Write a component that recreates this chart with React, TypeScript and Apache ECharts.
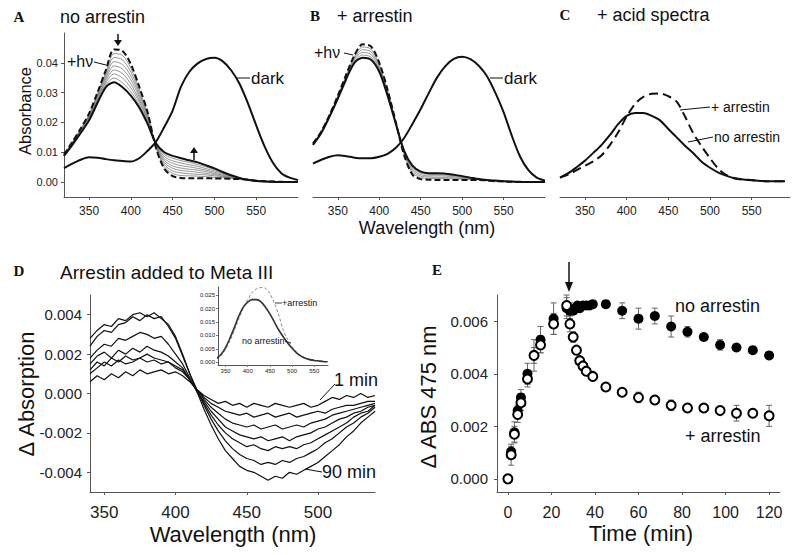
import React, { useEffect, useRef } from "react";
import * as echarts from "echarts";

const FONT = '"Liberation Sans", Arial, sans-serif';
const SERIF = '"Liberation Serif", "Times New Roman", serif';

// ---------- Panels A / B (wavelength in nm) ----------
const WL = [320, 330, 340, 350, 360, 370, 380, 390, 400, 410, 420, 430, 440, 450, 460, 470, 480, 490, 500, 510, 520, 530, 540, 550, 560, 570, 580, 590, 600];
const WL_TICKS = [350, 400, 450, 500, 550];
const A_Y_TICKS = [0, 0.01, 0.02, 0.03, 0.04];

const A_DARK = [0.0047, 0.0062, 0.0075, 0.0083, 0.0082, 0.0077, 0.0073, 0.0071, 0.0069, 0.008, 0.0105, 0.0135, 0.0185, 0.024, 0.032, 0.037, 0.0398, 0.0413, 0.0417, 0.0405, 0.0375, 0.033, 0.0265, 0.019, 0.012, 0.0065, 0.003, 0.0015, 0.0007];
const A_HV_FIRST = [0.0092, 0.0135, 0.018, 0.023, 0.03, 0.0375, 0.0445, 0.044, 0.0395, 0.032, 0.0235, 0.0115, 0.0045, 0.002, 0.0014, 0.0013, 0.0013, 0.0013, 0.0012, 0.0012, 0.0011, 0.001, 0.0008, 0.0005, 0.0003, 0.0002, 0.0001, 0, 0];
const A_HV_LAST = [0.0088, 0.0125, 0.0165, 0.0207, 0.0265, 0.0318, 0.0335, 0.0318, 0.029, 0.025, 0.0195, 0.013, 0.01, 0.0088, 0.008, 0.0073, 0.0066, 0.0056, 0.0046, 0.0034, 0.0023, 0.0014, 0.0008, 0.0004, 0.0002, 0.0001, 0, 0, 0];
const A_G1 = [0.0091, 0.0134, 0.0178, 0.0227, 0.0296, 0.0368, 0.0431, 0.0425, 0.0382, 0.0311, 0.023, 0.0117, 0.0052, 0.0029, 0.0022, 0.0021, 0.002, 0.0018, 0.0016, 0.0015, 0.0013, 0.001, 0.0008, 0.0005, 0.0003, 0.0002, 0.0001, 0, 0];
const A_G2 = [0.0091, 0.0133, 0.0176, 0.0224, 0.0291, 0.0361, 0.0418, 0.041, 0.0369, 0.0303, 0.0225, 0.0119, 0.0059, 0.0037, 0.0031, 0.0028, 0.0026, 0.0024, 0.0021, 0.0018, 0.0014, 0.0011, 0.0008, 0.0005, 0.0003, 0.0002, 0.0001, 0, 0];
const A_G3 = [0.009, 0.0131, 0.0174, 0.0221, 0.0287, 0.0354, 0.0404, 0.0394, 0.0356, 0.0294, 0.022, 0.0121, 0.0066, 0.0046, 0.0039, 0.0036, 0.0033, 0.0029, 0.0025, 0.002, 0.0016, 0.0012, 0.0008, 0.0005, 0.0003, 0.0002, 0.0001, 0, 0];
const A_G4 = [0.009, 0.013, 0.0173, 0.0219, 0.0283, 0.0347, 0.039, 0.0379, 0.0343, 0.0285, 0.0215, 0.0123, 0.0073, 0.0054, 0.0047, 0.0043, 0.004, 0.0035, 0.0029, 0.0023, 0.0017, 0.0012, 0.0008, 0.0005, 0.0002, 0.0001, 0, 0, 0];
const A_G5 = [0.009, 0.0129, 0.0171, 0.0216, 0.0278, 0.0339, 0.0376, 0.0364, 0.0329, 0.0276, 0.021, 0.0124, 0.0079, 0.0063, 0.0055, 0.0051, 0.0046, 0.004, 0.0033, 0.0026, 0.0019, 0.0013, 0.0008, 0.0004, 0.0002, 0.0001, 0, 0, 0];
const A_G6 = [0.0089, 0.0128, 0.0169, 0.0213, 0.0274, 0.0332, 0.0363, 0.0349, 0.0316, 0.0268, 0.0205, 0.0126, 0.0086, 0.0071, 0.0064, 0.0058, 0.0053, 0.0045, 0.0038, 0.0029, 0.002, 0.0013, 0.0008, 0.0004, 0.0002, 0.0001, 0, 0, 0];
const A_G7 = [0.0089, 0.0126, 0.0167, 0.021, 0.0269, 0.0325, 0.0349, 0.0333, 0.0303, 0.0259, 0.02, 0.0128, 0.0093, 0.008, 0.0072, 0.0066, 0.0059, 0.0051, 0.0042, 0.0031, 0.0022, 0.0014, 0.0008, 0.0004, 0.0002, 0.0001, 0, 0, 0];

const B_DARK = [0.0062, 0.0075, 0.0085, 0.009, 0.0087, 0.0082, 0.008, 0.008, 0.0085, 0.0095, 0.0115, 0.0148, 0.0195, 0.0245, 0.03, 0.0352, 0.039, 0.0413, 0.042, 0.0412, 0.039, 0.0355, 0.03, 0.0235, 0.0155, 0.0085, 0.004, 0.0015, 0.0005];
const B_HV_FIRST = [0.013, 0.017, 0.0225, 0.029, 0.036, 0.0425, 0.0462, 0.0455, 0.04, 0.031, 0.02, 0.009, 0.0025, 0.001, 0.0008, 0.0007, 0.0007, 0.0007, 0.0007, 0.0007, 0.0007, 0.0005, 0.0003, 0.0002, 0.0001, 0, 0, 0, 0];
const B_HV_LAST = [0.0125, 0.0165, 0.022, 0.028, 0.0345, 0.04, 0.0417, 0.041, 0.037, 0.029, 0.0195, 0.0105, 0.0055, 0.0035, 0.003, 0.003, 0.0028, 0.0025, 0.002, 0.0015, 0.001, 0.0007, 0.0005, 0.0003, 0.0002, 0.0001, 0, 0, 0];
const B_G1 = [0.0129, 0.0169, 0.0224, 0.0288, 0.0357, 0.042, 0.0453, 0.0446, 0.0394, 0.0306, 0.0199, 0.0093, 0.0031, 0.0015, 0.0012, 0.0012, 0.0011, 0.0011, 0.001, 0.0009, 0.0008, 0.0005, 0.0003, 0.0002, 0.0001, 0, 0, 0, 0];
const B_G2 = [0.0128, 0.0168, 0.0223, 0.0286, 0.0354, 0.0415, 0.0444, 0.0437, 0.0388, 0.0302, 0.0198, 0.0096, 0.0037, 0.002, 0.0017, 0.0016, 0.0015, 0.0014, 0.0012, 0.001, 0.0008, 0.0006, 0.0004, 0.0002, 0.0001, 0, 0, 0, 0];
const B_G3 = [0.0127, 0.0167, 0.0222, 0.0284, 0.0351, 0.041, 0.0435, 0.0428, 0.0382, 0.0298, 0.0197, 0.0099, 0.0043, 0.0025, 0.0021, 0.0021, 0.002, 0.0018, 0.0015, 0.0012, 0.0009, 0.0006, 0.0004, 0.0003, 0.0002, 0.0001, 0, 0, 0];
const B_G4 = [0.0126, 0.0166, 0.0221, 0.0282, 0.0348, 0.0405, 0.0426, 0.0419, 0.0376, 0.0294, 0.0196, 0.0102, 0.0049, 0.003, 0.0026, 0.0025, 0.0024, 0.0021, 0.0017, 0.0013, 0.0009, 0.0007, 0.0005, 0.0003, 0.0002, 0.0001, 0, 0, 0];

// ---------- Panel C (acid spectra) ----------
const WL_C = [320, 330, 340, 350, 360, 370, 380, 390, 400, 410, 420, 430, 440, 450, 460, 470, 480, 490, 500, 510, 520, 530, 540, 550, 560, 570, 580, 590];
const C_NO_ARRESTIN = [0.0015, 0.003, 0.005, 0.0072, 0.0098, 0.0125, 0.0158, 0.0195, 0.0222, 0.0232, 0.0232, 0.0222, 0.0207, 0.0178, 0.015, 0.0122, 0.0097, 0.0068, 0.0048, 0.0032, 0.0021, 0.0013, 0.0009, 0.0007, 0.0004, 0.0003, 0.0003, 0.0003];
const C_ARRESTIN = [0.0015, 0.0025, 0.004, 0.0055, 0.007, 0.009, 0.0125, 0.0168, 0.022, 0.0262, 0.0286, 0.0296, 0.0297, 0.0288, 0.027, 0.022, 0.0163, 0.012, 0.008, 0.0045, 0.0023, 0.0012, 0.0008, 0.0006, 0.0004, 0.0003, 0.0003, 0.0003];

// ---------- Panel D (difference spectra, in units of 0.001) ----------
const WL_D = [340, 345, 350, 355, 360, 365, 370, 375, 380, 385, 390, 395, 400, 405, 410, 415, 420, 425, 430, 435, 440, 445, 450, 455, 460, 465, 470, 475, 480, 485, 490, 495, 500, 505, 510, 515, 520, 525, 530, 535, 540];
const D_TICKS_X = [350, 400, 450, 500];
const D_TICKS_Y = [-4, -2, 0, 2, 4];
const D_1MIN = [0.6, 0.9, 0.7, 1.0, 0.8, 1.1, 0.9, 1.2, 1.0, 1.1, 1.2, 1.0, 1.1, 0.9, 0.6, 0.2, -0.1, -0.3, -0.5, -0.4, -0.6, -0.5, -0.7, -0.5, -0.6, -0.7, -0.5, -0.6, -0.7, -0.6, -0.5, -0.7, -0.6, -0.4, -0.2, -0.3, -0.1, -0.2, 0.0, -0.2, -0.1];
const D_C2 = [1.0, 1.3, 1.6, 1.4, 1.7, 1.5, 1.6, 1.8, 1.6, 1.7, 1.5, 1.6, 1.3, 1.1, 0.7, 0.2, -0.2, -0.5, -0.7, -0.9, -1.0, -1.1, -1.0, -1.2, -1.1, -1.0, -1.2, -1.1, -1.0, -1.2, -1.1, -1.0, -0.9, -1.0, -0.8, -0.7, -0.6, -0.6, -0.5, -0.4, -0.4];
const D_C3 = [1.2, 1.6, 1.4, 1.8, 1.6, 1.9, 1.7, 1.8, 2.0, 1.8, 1.7, 1.6, 1.4, 1.2, 0.7, 0.2, -0.3, -0.7, -1.0, -1.3, -1.5, -1.6, -1.7, -1.6, -1.8, -1.7, -1.6, -1.8, -1.7, -1.6, -1.7, -1.5, -1.4, -1.3, -1.1, -1.0, -0.9, -0.8, -0.7, -0.6, -0.5];
const D_C4 = [1.5, 1.9, 2.1, 1.8, 2.2, 2.0, 2.3, 2.1, 2.4, 2.2, 2.1, 1.9, 1.6, 1.3, 0.7, 0.1, -0.4, -0.9, -1.3, -1.7, -1.9, -2.1, -2.2, -2.3, -2.2, -2.4, -2.3, -2.2, -2.4, -2.2, -2.1, -2.0, -1.8, -1.7, -1.5, -1.3, -1.2, -1.0, -0.9, -0.7, -0.6];
const D_C5 = [1.8, 2.2, 2.5, 2.4, 2.8, 2.7, 2.9, 3.1, 3.0, 2.8, 2.9, 2.5, 2.0, 1.5, 0.8, 0.1, -0.5, -1.1, -1.6, -2.0, -2.3, -2.5, -2.7, -2.6, -2.8, -2.9, -2.7, -2.8, -2.7, -2.8, -2.6, -2.5, -2.3, -2.1, -1.9, -1.7, -1.5, -1.2, -1.0, -0.9, -0.6];
const D_C6 = [2.4, 2.9, 3.2, 3.1, 3.5, 3.6, 3.9, 3.7, 4.0, 3.8, 3.9, 3.4, 2.8, 1.9, 1.0, 0.2, -0.6, -1.3, -1.9, -2.4, -2.8, -3.1, -3.3, -3.4, -3.6, -3.5, -3.6, -3.4, -3.5, -3.3, -3.2, -3.0, -2.8, -2.5, -2.3, -2.0, -1.7, -1.5, -1.2, -1.0, -0.7];
const D_90MIN = [2.8, 3.2, 3.5, 3.4, 3.8, 3.7, 4.0, 4.1, 3.9, 4.1, 3.8, 3.5, 2.9, 2.0, 1.0, 0.1, -0.8, -1.6, -2.3, -2.9, -3.3, -3.7, -3.9, -4.0, -4.2, -4.4, -4.2, -4.3, -4.0, -4.1, -3.9, -3.7, -3.5, -3.2, -2.9, -2.6, -2.2, -1.9, -1.5, -1.2, -0.9];

// ---------- Inset of D ----------
const WL_INSET = [330, 340, 350, 360, 370, 380, 390, 400, 410, 420, 430, 440, 450, 460, 470, 480, 490, 500, 510, 520, 530, 540, 550, 560, 570, 580];
const INSET_TICKS_X = [350, 400, 450, 500, 550];
const INSET_TICKS_Y = [0, 0.005, 0.01, 0.015, 0.02, 0.025];
const INSET_NO_ARRESTIN = [0.0015, 0.003, 0.0055, 0.009, 0.013, 0.0172, 0.0205, 0.0224, 0.0233, 0.0233, 0.0225, 0.0205, 0.018, 0.015, 0.012, 0.0095, 0.0072, 0.0052, 0.0035, 0.0023, 0.0015, 0.001, 0.0007, 0.0005, 0.0003, 0.0002];
const INSET_ARRESTIN = [0.0012, 0.0025, 0.0048, 0.008, 0.012, 0.0162, 0.0202, 0.0233, 0.026, 0.0273, 0.0278, 0.0275, 0.0255, 0.022, 0.0175, 0.012, 0.0085, 0.0058, 0.0038, 0.0024, 0.0016, 0.0011, 0.0008, 0.0005, 0.0003, 0.0002];

// ---------- Panel E (time course at 475 nm) ----------
const E_TICKS_X = [0, 20, 40, 60, 80, 100, 120];
const E_TICKS_Y = [0, 0.002, 0.004, 0.006];
const E_NOARR_T = [1.5, 3, 4.5, 6, 9, 12, 15, 21, 27, 28.5, 30, 31, 32, 33, 34.5, 36, 37.5, 39, 45, 52.5, 60, 67.5, 75, 82.5, 90, 97.5, 105, 112.5, 120];
const E_NOARR_V = [0.00104, 0.00177, 0.0026, 0.0031, 0.004, 0.0047, 0.0053, 0.0061, 0.0065, 0.0064, 0.0064, 0.0065, 0.0066, 0.0065, 0.0066, 0.0066, 0.0066, 0.00665, 0.00665, 0.0064, 0.0061, 0.0062, 0.0058, 0.0056, 0.0054, 0.0051, 0.005, 0.0049, 0.0047];
const E_NOARR_ERR = [0.0002, 0.0004, 0.0002, 0.0003, 0.0004, 0.0006, 0.0005, 0.0006, 0.0004, 0.0003, 0.0001, 0.0001, 0.0001, 0.0001, 0.0001, 0.0001, 0.0001, 0.0001, 0.0001, 0.0003, 0.0004, 0.0003, 0.0004, 0.0002, 0.0001, 0.0002, 0.0001, 0.0001, 0.0001];
const E_ARR_T = [0, 1.5, 3, 4.5, 6, 9, 12, 15, 21, 27, 28.5, 30, 31.5, 33, 34.5, 36, 39, 45, 52.5, 60, 67.5, 75, 82.5, 90, 97.5, 105, 112.5, 120];
const E_ARR_V = [0, 0.00092, 0.0017, 0.00245, 0.0029, 0.0038, 0.0047, 0.0051, 0.0059, 0.0066, 0.0059, 0.0054, 0.0049, 0.0045, 0.0043, 0.0041, 0.0039, 0.0035, 0.0033, 0.0031, 0.003, 0.0028, 0.0027, 0.0027, 0.0026, 0.0025, 0.0025, 0.0024];
const E_ARR_ERR = [0, 0.0004, 0.0003, 0.0003, 0.0003, 0.0003, 0.0003, 0.0003, 0.0004, 0.0004, 0.0003, 0.0002, 0.0001, 0.0001, 0.0001, 0.0001, 0.0001, 0.0001, 0.0001, 0.0002, 0.0001, 0.0002, 0.0001, 0.0001, 0.0001, 0.0003, 0.0001, 0.0004];

const zip = (xs: number[], ys: number[]) => xs.map((x, i) => [x, ys[i]]);

const AXIS_COLOR = "#555";
const LABEL_COLOR = "#222";

function xAxisDef(gridIndex: number, min: number, max: number, ticks: number[], fontSize: number, margin: number, fmt?: (v: number) => string) {
  return {
    type: "value", gridIndex, min, max,
    axisLine: { show: true, onZero: false, lineStyle: { color: AXIS_COLOR, width: 1 } },
    axisTick: { show: true, length: 3, customValues: ticks, lineStyle: { color: AXIS_COLOR } },
    axisLabel: { show: true, customValues: ticks, fontSize, margin, color: LABEL_COLOR, fontFamily: FONT, formatter: fmt },
    splitLine: { show: false },
  };
}
function yAxisDef(gridIndex: number, min: number, max: number, ticks: number[] | null, fontSize: number, margin: number, fmt?: (v: number) => string) {
  if (!ticks) {
    return { type: "value", gridIndex, min, max, show: false, splitLine: { show: false } };
  }
  return {
    type: "value", gridIndex, min, max,
    axisLine: { show: true, onZero: false, lineStyle: { color: AXIS_COLOR, width: 1 } },
    axisTick: { show: true, length: 3, customValues: ticks, lineStyle: { color: AXIS_COLOR } },
    axisLabel: { show: true, customValues: ticks, fontSize, margin, color: LABEL_COLOR, fontFamily: FONT, formatter: fmt },
    splitLine: { show: false },
  };
}

function lineSeries(idx: number, xs: number[], ys: number[], width: number, color: string, dashed: boolean | number[], smooth: number | boolean, z = 2) {
  return {
    type: "line", xAxisIndex: idx, yAxisIndex: idx, data: zip(xs, ys),
    showSymbol: false, symbol: "none", smooth, silent: true, z,
    lineStyle: { width, color, type: dashed ? (Array.isArray(dashed) ? dashed : [6, 3]) : "solid" },
  };
}

function errorSeries(ts: number[], vs: number[], es: number[]) {
  return {
    type: "custom", xAxisIndex: 5, yAxisIndex: 5, silent: true, z: 1,
    data: ts.map((t, i) => [t, vs[i], es[i]]),
    encode: { x: 0, y: 1 },
    renderItem: (params: any, api: any) => {
      const t = api.value(0), v = api.value(1), e = api.value(2);
      if (!e) return { type: "group", children: [] };
      const top = api.coord([t, v + e]);
      const bot = api.coord([t, v - e]);
      const w = 3;
      const st = { stroke: "#666", lineWidth: 1 };
      return {
        type: "group",
        children: [
          { type: "line", shape: { x1: top[0], y1: top[1], x2: bot[0], y2: bot[1] }, style: st },
          { type: "line", shape: { x1: top[0] - w, y1: top[1], x2: top[0] + w, y2: top[1] }, style: st },
          { type: "line", shape: { x1: bot[0] - w, y1: bot[1], x2: bot[0] + w, y2: bot[1] }, style: st },
        ],
      };
    },
  };
}

function txt(x: number, y: number, text: string, fontSize: number, opts: any = {}) {
  return {
    type: "text", x, y, rotation: opts.rotation || 0, silent: true, z: 10,
    style: {
      text, fontSize, fontFamily: opts.serif ? SERIF : FONT, fontWeight: opts.bold ? "bold" : "normal",
      fill: opts.fill || "#111", align: opts.align || "left", verticalAlign: "middle",
    },
  };
}
function seg(x1: number, y1: number, x2: number, y2: number, w = 1, color = "#111") {
  return { type: "line", silent: true, z: 10, shape: { x1, y1, x2, y2 }, style: { stroke: color, lineWidth: w } };
}
function tri(points: number[][]) {
  return { type: "polygon", silent: true, z: 10, shape: { points }, style: { fill: "#111" } };
}

export default function App() {
  const ref = useRef<HTMLDivElement>(null);
  useEffect(() => {
    if (!ref.current) return;
    const chart = echarts.init(ref.current, undefined, { renderer: "svg" });
    const f2 = (v: number) => v.toFixed(2);
    const f3 = (v: number) => v.toFixed(3);
    const fm = (v: number) => (v / 1000).toFixed(3);
    const GRAY = "#7a7a7a";

    const series: any[] = [
      // A
      ...[A_G1, A_G2, A_G3, A_G4, A_G5, A_G6, A_G7].map((g) => lineSeries(0, WL, g, 0.8, GRAY, false, 0.3, 1)),
      lineSeries(0, WL, A_HV_LAST, 2, "#111", false, 0.3),
      lineSeries(0, WL, A_HV_FIRST, 2, "#111", [6, 3], 0.3),
      lineSeries(0, WL, A_DARK, 2, "#111", false, 0.3),
      // B
      ...[B_G1, B_G2, B_G3, B_G4].map((g) => lineSeries(1, WL, g, 0.8, GRAY, false, 0.3, 1)),
      lineSeries(1, WL, B_HV_LAST, 2, "#111", false, 0.3),
      lineSeries(1, WL, B_HV_FIRST, 2, "#111", [6, 3], 0.3),
      lineSeries(1, WL, B_DARK, 2, "#111", false, 0.3),
      // C
      lineSeries(2, WL_C, C_NO_ARRESTIN, 2, "#111", false, 0.3),
      lineSeries(2, WL_C, C_ARRESTIN, 2, "#111", [9, 5], 0.3),
      // D
      ...[D_1MIN, D_C2, D_C3, D_C4, D_C5, D_C6, D_90MIN].map((c) => lineSeries(3, WL_D, c, 1.2, "#111", false, false)),
      // inset
      lineSeries(4, WL_INSET, INSET_ARRESTIN, 1, "#888", [3, 2], 0.3),
      lineSeries(4, WL_INSET, INSET_NO_ARRESTIN, 1.6, "#333", false, 0.3),
      // E
      errorSeries(E_NOARR_T, E_NOARR_V, E_NOARR_ERR),
      errorSeries(E_ARR_T, E_ARR_V, E_ARR_ERR),
      {
        type: "scatter", xAxisIndex: 5, yAxisIndex: 5, data: zip(E_NOARR_T, E_NOARR_V), silent: true, z: 3,
        symbol: "circle", symbolSize: 10, itemStyle: { color: "#000", opacity: 1 },
      },
      {
        type: "scatter", xAxisIndex: 5, yAxisIndex: 5, data: zip(E_ARR_T, E_ARR_V), silent: true, z: 4,
        symbol: "circle", symbolSize: 9, itemStyle: { color: "#fff", borderColor: "#000", borderWidth: 2, opacity: 1 },
      },
    ];

    const graphic: any[] = [
      // titles
      txt(19, 17, "A", 15, { serif: true, bold: true, align: "center" }),
      txt(60, 17, "no arrestin", 18),
      txt(315, 16, "B", 15, { serif: true, bold: true, align: "center" }),
      txt(337, 16, "+ arrestin", 18),
      txt(565, 15, "C", 15, { serif: true, bold: true, align: "center" }),
      txt(597, 15, "+ acid spectra", 18),
      txt(19, 271, "D", 15, { serif: true, bold: true, align: "center" }),
      txt(60, 272, "Arrestin added to Meta III", 19),
      txt(437, 270, "E", 15, { serif: true, bold: true, align: "center" }),
      // axis titles
      txt(25, 111, "Absorbance", 16.5, { rotation: Math.PI / 2, align: "center" }),
      txt(427, 228, "Wavelength (nm)", 18, { align: "center" }),
      txt(26, 394, "\u0394 Absorption", 22, { rotation: Math.PI / 2, align: "center" }),
      txt(233, 534, "Wavelength (nm)", 22, { align: "center" }),
      txt(428, 397, "\u0394 ABS 475 nm", 22, { rotation: Math.PI / 2, align: "center" }),
      txt(641, 533, "Time (min)", 22, { align: "center" }),
      // A annotations
      txt(67, 61, "+h\u03bd", 16),
      seg(94, 62, 106, 65),
      seg(237, 78, 250, 78),
      txt(251, 78, "dark", 17),
      seg(118, 34, 118, 42, 1.5), tri([[114, 40], [122, 40], [118, 46]]),
      seg(194, 152, 194, 160, 1.5), tri([[190, 153], [198, 153], [194, 147]]),
      // B annotations
      txt(314, 52, "+h\u03bd", 16),
      seg(344, 53, 353, 55),
      seg(490, 78, 503, 78),
      txt(504, 78, "dark", 17),
      // C annotations
      seg(680, 110, 710, 107),
      txt(711, 107, "+ arrestin", 14),
      seg(688, 142, 713, 137),
      txt(714, 137, "no arrestin", 14),
      // D annotations
      seg(320, 400, 335, 384),
      txt(334, 380, "1 min", 18),
      seg(305, 469, 322, 472),
      txt(322, 472, "90 min", 18),
      // inset labels
      seg(275, 303, 282, 303, 0.8),
      txt(282, 303, "+arrestin", 9),
      txt(242, 341, "no arrestin", 9),
      seg(285, 341, 291, 343, 0.8),
      // E annotations
      txt(675, 306, "no arrestin", 18),
      txt(685, 436, "+ arrestin", 18),
      seg(569, 262, 569, 286, 1.5), tri([[565, 282], [573, 282], [569, 292]]),
    ];

    const option: any = {
      animation: false,
      backgroundColor: "#fff",
      textStyle: { fontFamily: FONT },
      grid: [
        { left: 64, top: 33, width: 234, height: 164 },
        { left: 313, top: 33, width: 232, height: 164 },
        { left: 560, top: 33, width: 230, height: 164 },
        { left: 90, top: 295, width: 285, height: 197 },
        { left: 218, top: 287, width: 110, height: 78 },
        { left: 497, top: 295, width: 283, height: 197 },
      ],
      xAxis: [
        xAxisDef(0, 320, 600, WL_TICKS, 12, 8),
        xAxisDef(1, 320, 600, WL_TICKS, 12, 8),
        xAxisDef(2, 320, 596, WL_TICKS, 12, 8),
        xAxisDef(3, 340, 540, D_TICKS_X, 17, 12),
        { ...xAxisDef(4, 333, 581, INSET_TICKS_X, 6, 3), axisTick: { show: true, length: 2, customValues: INSET_TICKS_X, lineStyle: { color: "#777" } } },
        xAxisDef(5, -5, 125, E_TICKS_X, 16, 12),
      ],
      yAxis: [
        yAxisDef(0, -0.005, 0.05, A_Y_TICKS, 11, 6, f2),
        yAxisDef(1, -0.005, 0.05, null, 11, 6),
        yAxisDef(2, -0.005, 0.05, null, 11, 6),
        yAxisDef(3, -5, 5, D_TICKS_Y, 15, 8, fm),
        { ...yAxisDef(4, -0.001, 0.028, INSET_TICKS_Y, 6, 3, f3), axisTick: { show: true, length: 2, customValues: INSET_TICKS_Y, lineStyle: { color: "#777" } } },
        yAxisDef(5, -0.0005, 0.007, E_TICKS_Y, 15, 9, f3),
      ],
      series,
      graphic,
    };
    chart.setOption(option);
    return () => chart.dispose();
  }, []);
  return <div ref={ref} style={{ position: "absolute", left: 0, top: 0, width: 800, height: 555 }} />;
}
